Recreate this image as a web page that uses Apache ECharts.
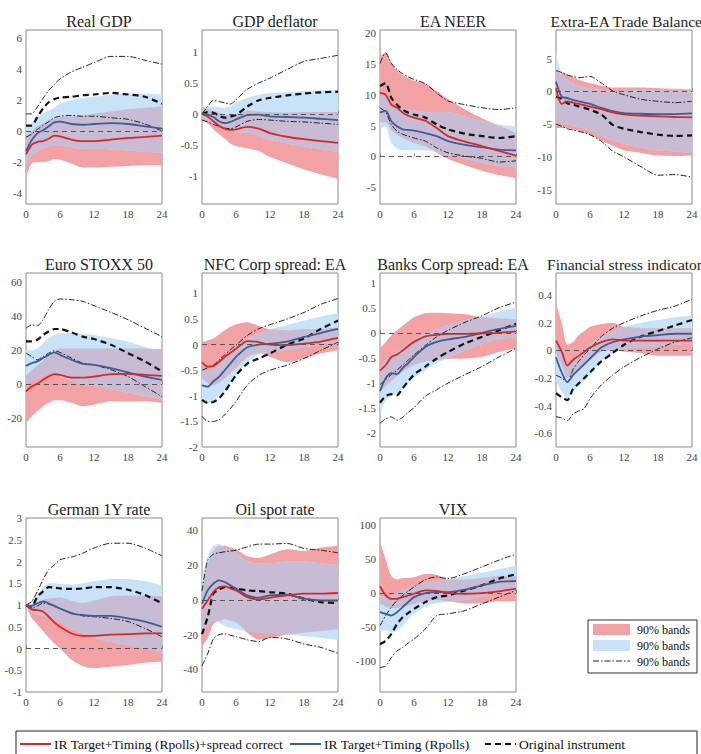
<!DOCTYPE html>
<html>
<head>
<meta charset="utf-8">
<title>Impulse responses</title>
<script src="https://cdn.jsdelivr.net/npm/echarts@6/dist/echarts.min.js"></script>
<style>
  html, body { margin: 0; padding: 0; background: #fff; }
  #main { width: 701px; height: 754px; }
</style>
</head>
<body>
<div id="main"></div>
<script>
// horizons in months, shared by every panel
const horizons = [0, 1, 2, 3, 4, 5, 6, 8, 10, 12, 15, 18, 21, 24];
const months = Array.from({ length: 25 }, (_, i) => String(i)); // x categories 0..24

// Real GDP
const gdpRed    = [-1.5, -0.9, -0.7, -0.65, -0.5, -0.3, -0.35, -0.55, -0.65, -0.65, -0.55, -0.45, -0.38, -0.3];
const gdpBlue   = [-1.3, -0.6, -0.15, 0.05, 0.3, 0.55, 0.6, 0.45, 0.4, 0.45, 0.5, 0.45, 0.3, 0.15];
const gdpOrig   = [0.35, 0.35, 0.9, 1.45, 1.85, 2.05, 2.15, 2.2, 2.3, 2.35, 2.45, 2.35, 2.2, 1.75];
const gdpDdHi   = [1.1, 1.1, 1.55, 2.1, 2.6, 3.0, 3.35, 3.8, 4.1, 4.4, 4.8, 4.8, 4.55, 4.3];
const gdpDdLo   = [-0.4, -0.2, 0.1, 0.35, 0.6, 0.85, 0.95, 1.0, 0.95, 0.95, 0.85, 0.75, 0.45, 0.0];
const gdpRedHi  = [-0.3, 0.0, 0.3, 0.5, 0.7, 0.8, 0.9, 0.95, 1.0, 1.1, 1.25, 1.4, 1.5, 1.6];
const gdpRedLo  = [-2.9, -2.1, -2.0, -2.0, -1.95, -1.8, -1.85, -2.1, -2.35, -2.35, -2.3, -2.25, -2.2, -2.2];
const gdpBlueHi = [0.3, 0.5, 0.9, 1.1, 1.3, 1.5, 1.75, 2.0, 2.1, 2.2, 2.35, 2.4, 2.4, 2.35];
const gdpBlueLo = [-2.2, -1.6, -1.3, -1.1, -1.0, -0.95, -0.95, -1.05, -1.15, -1.15, -1.2, -1.25, -1.35, -1.4];
const gdpTicks  = [-4, -2, 0, 2, 4, 6];

// GDP deflator
const deflRed    = [0, -0.04, -0.12, -0.19, -0.24, -0.26, -0.25, -0.21, -0.24, -0.31, -0.37, -0.41, -0.44, -0.47];
const deflBlue   = [0, -0.01, -0.05, -0.12, -0.15, -0.13, -0.09, -0.02, -0.01, -0.04, -0.05, -0.06, -0.08, -0.1];
const deflOrig   = [0, 0.03, 0.02, -0.03, -0.06, -0.04, -0.02, 0.12, 0.22, 0.26, 0.3, 0.33, 0.35, 0.36];
const deflDdHi   = [0, 0.12, 0.22, 0.2, 0.18, 0.16, 0.23, 0.4, 0.5, 0.58, 0.72, 0.85, 0.9, 0.95];
const deflDdLo   = [-0.1, -0.13, -0.17, -0.2, -0.23, -0.24, -0.21, -0.12, -0.09, -0.1, -0.12, -0.13, -0.15, -0.17];
const deflRedHi  = [0.12, 0.08, 0.05, 0.02, -0.02, -0.02, 0.0, 0.05, 0.04, 0.03, 0.02, 0.03, 0.03, 0.03];
const deflRedLo  = [-0.1, -0.15, -0.25, -0.33, -0.4, -0.48, -0.52, -0.56, -0.6, -0.7, -0.8, -0.9, -0.98, -1.05];
const deflBlueHi = [0.12, 0.12, 0.12, 0.11, 0.1, 0.12, 0.18, 0.26, 0.31, 0.34, 0.35, 0.37, 0.38, 0.39];
const deflBlueLo = [-0.08, -0.1, -0.15, -0.2, -0.25, -0.28, -0.3, -0.3, -0.35, -0.42, -0.48, -0.53, -0.57, -0.62];
const deflTicks  = [-1, -0.5, 0, 0.5, 1];

// EA NEER
const neerRed    = [10.3, 10, 8.4, 7.9, 7.1, 6.6, 6.3, 5.8, 4.6, 3.3, 2.4, 1.7, 0.9, 0.15];
const neerBlue   = [7.1, 7.4, 5.7, 4.9, 4.4, 4.3, 4.2, 3.8, 3.3, 2.5, 1.9, 1.5, 1.1, 1.0];
const neerOrig   = [11.4, 11.9, 9.5, 8.4, 7.6, 7.1, 6.8, 6.3, 5.2, 4.4, 3.7, 3.3, 3.0, 3.3];
const neerDdHi   = [15.1, 16.8, 15.1, 14.1, 13.4, 12.9, 12.5, 11.8, 10.3, 9.0, 8.4, 7.9, 7.6, 7.9];
const neerDdLo   = [7.9, 7.2, 5.2, 4.1, 3.6, 3.3, 3.0, 2.5, 1.4, 0.6, 0.05, -0.3, -0.9, -0.7];
const neerRedHi  = [16.3, 16.8, 15.2, 14, 13.2, 12.7, 12.3, 11.8, 10.6, 9.3, 7.6, 6.2, 5.0, 3.8];
const neerRedLo  = [5.5, 5.5, 4.2, 3.5, 3.0, 2.6, 2.2, 1.6, 0.6, -0.4, -1.4, -2.3, -3.0, -3.5];
const neerBlueHi = [9.5, 10, 8.6, 8.2, 7.8, 7.6, 7.5, 7.2, 7.2, 7.2, 6.5, 5.8, 5.2, 4.9];
const neerBlueLo = [4.5, 4.8, 2.2, 1.3, 1.0, 1.0, 1.0, 1.0, 0.7, 0.2, -0.4, -1.0, -1.5, -1.8];
const neerTicks  = [-5, 0, 5, 10, 15, 20];

// Extra-EA trade balance
const tbRed    = [0.5, -1.9, -1.5, -1.7, -1.9, -2.1, -2.3, -2.7, -3.2, -3.5, -3.7, -3.8, -3.9, -3.95];
const tbBlue   = [1.5, -0.8, -1.0, -1.3, -1.5, -1.7, -1.9, -2.5, -3.0, -3.3, -3.4, -3.45, -3.45, -3.35];
const tbOrig   = [-0.8, -1.1, -1.8, -2.0, -2.3, -2.5, -2.8, -3.5, -5.1, -5.7, -6.2, -6.6, -6.8, -6.7];
const tbDdHi   = [3.2, 2.9, 2.5, 2.3, 2.1, 2.2, 2.3, 1.3, 0.1, -0.5, -1.2, -1.5, -1.7, -1.5];
const tbDdLo   = [-5.0, -5.3, -5.7, -5.9, -6.1, -6.3, -6.6, -7.6, -9.1, -10.0, -11.5, -12.8, -12.7, -13.1];
const tbRedHi  = [3.3, 3.0, 2.6, 2.2, 1.8, 1.5, 1.3, 0.9, 0.6, 0.6, 0.6, 0.5, 0.4, 0.3];
const tbRedLo  = [-5.6, -5.6, -5.6, -5.8, -6.0, -6.3, -6.6, -7.5, -8.3, -9.0, -9.4, -9.8, -9.9, -9.8];
const tbBlueHi = [6.0, 2.5, 1.8, 1.2, 0.8, 0.6, 0.5, 0.2, 0.0, 0.1, 0.2, 0.2, 0.1, 0.1];
const tbBlueLo = [-4.6, -5.0, -5.0, -5.2, -5.5, -5.7, -6.0, -6.8, -7.5, -8.0, -8.6, -9.0, -9.2, -9.3];
const tbTicks  = [-15, -10, -5, 0, 5];

// Euro STOXX 50
const stoxxRed    = [-4.3, -1.4, 0.2, 2.6, 4.5, 5.9, 5.5, 3.9, 3.9, 4.5, 5.9, 6.1, 5.5, 4.9];
const stoxxBlue   = [10.8, 12.4, 13.4, 15.4, 17.3, 18.7, 17.3, 14.4, 12, 11.4, 9.4, 6.9, 4.5, 2.6];
const stoxxOrig   = [25.2, 25.2, 26.2, 29, 31, 32.5, 32.5, 30.5, 28, 26.6, 23.2, 18.3, 13.4, 7.5];
const stoxxDdHi   = [33, 35, 34.4, 38, 44, 48.8, 50.2, 49.8, 48.8, 46.3, 42.3, 38, 33, 28];
const stoxxDdLo   = [18.3, 16.3, 14.4, 16.3, 18.3, 19.7, 18.7, 15.4, 12.4, 11.4, 8.5, 4.5, -1.4, -7.3];
const stoxxRedHi  = [5, 8, 11, 14, 17, 19, 21, 21, 21, 21, 21, 21, 21, 20.5];
const stoxxRedLo  = [-23, -19, -16, -13, -11, -9.5, -9.5, -11, -13, -12, -10, -10, -10, -11];
const stoxxBlueHi = [20, 20, 21, 24, 27, 29, 30, 30, 29.5, 29, 27, 25, 22, 19];
const stoxxBlueLo = [0, 2, 3, 5, 6, 6, 5, 2, 0, -1, -3, -5, -7, -9];
const stoxxTicks  = [-20, 0, 20, 40, 60];

// NFC corporate spread
const nfcRed    = [-0.34, -0.43, -0.42, -0.34, -0.24, -0.16, -0.08, 0.07, 0.05, 0, -0.01, 0.02, 0.06, 0.13];
const nfcBlue   = [-0.79, -0.82, -0.72, -0.63, -0.5, -0.37, -0.24, -0.05, 0, 0.02, 0.06, 0.15, 0.23, 0.31];
const nfcOrig   = [-1.08, -1.14, -1.12, -1.05, -0.92, -0.76, -0.6, -0.37, -0.27, -0.17, 0, 0.12, 0.31, 0.47];
const nfcDdHi   = [-0.5, -0.45, -0.4, -0.3, -0.2, -0.1, -0.01, 0.18, 0.31, 0.39, 0.5, 0.63, 0.79, 0.9];
const nfcDdLo   = [-1.4, -1.5, -1.5, -1.47, -1.37, -1.25, -1.11, -0.79, -0.6, -0.5, -0.4, -0.27, -0.11, 0.05];
const nfcRedHi  = [0.04, 0.08, 0.12, 0.2, 0.28, 0.35, 0.4, 0.44, 0.37, 0.3, 0.28, 0.3, 0.31, 0.34];
const nfcRedLo  = [-0.66, -0.75, -0.79, -0.75, -0.66, -0.56, -0.46, -0.24, -0.17, -0.24, -0.34, -0.27, -0.17, -0.11];
const nfcBlueHi = [-0.45, -0.5, -0.45, -0.35, -0.25, -0.15, -0.05, 0.12, 0.22, 0.3, 0.38, 0.47, 0.55, 0.62];
const nfcBlueLo = [-1.1, -1.15, -1.1, -1.0, -0.9, -0.75, -0.6, -0.35, -0.2, -0.15, -0.1, -0.05, 0.0, 0.05];
const nfcTicks  = [-2, -1.5, -1, -0.5, 0, 0.5, 1];

// Banks corporate spread
const bankRed    = [-0.75, -0.64, -0.48, -0.43, -0.35, -0.26, -0.18, -0.07, -0.04, -0.02, -0.02, -0.01, 0, 0.03];
const bankBlue   = [-1.16, -0.9, -0.8, -0.82, -0.7, -0.6, -0.48, -0.28, -0.18, -0.13, -0.08, 0, 0.08, 0.14];
const bankOrig   = [-1.39, -1.26, -1.22, -1.24, -1.1, -0.96, -0.83, -0.67, -0.51, -0.38, -0.21, -0.08, 0.05, 0.18];
const bankDdHi   = [-1.03, -0.93, -0.83, -0.74, -0.64, -0.54, -0.44, -0.25, -0.08, 0.05, 0.21, 0.34, 0.5, 0.61];
const bankDdLo   = [-1.8, -1.71, -1.67, -1.74, -1.68, -1.58, -1.49, -1.26, -1.13, -1.0, -0.83, -0.67, -0.48, -0.31];
const bankRedHi  = [-0.31, -0.18, -0.05, 0.05, 0.14, 0.23, 0.31, 0.39, 0.4, 0.39, 0.37, 0.31, 0.29, 0.27];
const bankRedLo  = [-1.16, -1.06, -0.96, -0.86, -0.77, -0.7, -0.64, -0.57, -0.54, -0.52, -0.51, -0.48, -0.38, -0.31];
const bankBlueHi = [-0.7, -0.55, -0.45, -0.38, -0.3, -0.22, -0.15, -0.02, 0.07, 0.15, 0.25, 0.33, 0.42, 0.5];
const bankBlueLo = [-1.6, -1.35, -1.25, -1.2, -1.1, -1.0, -0.9, -0.75, -0.6, -0.5, -0.35, -0.22, -0.12, -0.1];
const bankTicks  = [-2, -1.5, -1, -0.5, 0, 0.5, 1];

// Financial stress indicator
const fsiRed    = [0.07, -0.01, -0.11, -0.07, -0.04, -0.01, 0.02, 0.06, 0.08, 0.07, 0.07, 0.07, 0.07, 0.07];
const fsiBlue   = [-0.05, -0.16, -0.23, -0.18, -0.14, -0.1, -0.06, 0.02, 0.06, 0.08, 0.1, 0.11, 0.12, 0.12];
const fsiOrig   = [-0.31, -0.34, -0.36, -0.28, -0.24, -0.2, -0.16, -0.08, -0.02, 0.04, 0.1, 0.14, 0.18, 0.22];
const fsiDdHi   = [-0.18, -0.2, -0.23, -0.14, -0.08, -0.03, 0.01, 0.1, 0.16, 0.2, 0.25, 0.29, 0.32, 0.37];
const fsiDdLo   = [-0.48, -0.49, -0.51, -0.46, -0.44, -0.42, -0.35, -0.25, -0.18, -0.12, -0.05, 0.01, 0.06, 0.09];
const fsiRedHi  = [0.34, 0.2, 0.04, 0.06, 0.11, 0.14, 0.17, 0.19, 0.2, 0.17, 0.16, 0.16, 0.16, 0.16];
const fsiRedLo  = [-0.02, -0.11, -0.2, -0.18, -0.14, -0.1, -0.07, -0.01, 0, -0.01, -0.02, -0.04, -0.04, -0.04];
const fsiBlueHi = [0.08, -0.03, -0.1, -0.07, -0.03, 0.0, 0.04, 0.1, 0.14, 0.17, 0.2, 0.22, 0.24, 0.25];
const fsiBlueLo = [-0.22, -0.3, -0.35, -0.3, -0.26, -0.22, -0.18, -0.08, -0.02, 0.01, 0.02, 0.03, 0.04, 0.05];
const fsiTicks  = [-0.6, -0.4, -0.2, 0, 0.2, 0.4];

// German 1Y rate
const de1yRed    = [1.0, 0.9, 0.88, 0.85, 0.73, 0.6, 0.5, 0.35, 0.29, 0.29, 0.32, 0.33, 0.35, 0.35];
const de1yBlue   = [1.0, 0.98, 1.04, 1.08, 1.04, 0.98, 0.92, 0.81, 0.77, 0.75, 0.75, 0.69, 0.62, 0.5];
const de1yOrig   = [1.0, 0.96, 1.19, 1.31, 1.41, 1.4, 1.38, 1.37, 1.38, 1.41, 1.41, 1.35, 1.23, 1.04];
const de1yDdHi   = [1.0, 1.08, 1.31, 1.58, 1.81, 1.92, 2.04, 2.1, 2.19, 2.31, 2.42, 2.42, 2.31, 2.13];
const de1yDdLo   = [0.98, 0.92, 0.98, 1.04, 1.02, 0.97, 0.92, 0.82, 0.75, 0.73, 0.69, 0.62, 0.46, 0.27];
const de1yRedHi  = [1.0, 1.0, 1.05, 1.12, 1.15, 1.16, 1.17, 1.1, 1.05, 1.1, 1.2, 1.22, 1.22, 1.2];
const de1yRedLo  = [1.0, 0.7, 0.55, 0.4, 0.25, 0.12, 0.0, -0.25, -0.4, -0.45, -0.42, -0.38, -0.33, -0.3];
const de1yBlueHi = [1.0, 1.1, 1.25, 1.4, 1.5, 1.5, 1.48, 1.47, 1.5, 1.55, 1.6, 1.6, 1.55, 1.45];
const de1yBlueLo = [1.0, 0.85, 0.8, 0.75, 0.72, 0.66, 0.6, 0.45, 0.35, 0.25, 0.15, 0.08, 0.0, -0.1];
const de1yTicks  = [-1, -0.5, 0, 0.5, 1, 1.5, 2, 2.5, 3];

// Oil spot rate
const oilRed    = [-5.2, -0.4, 4.4, 7.3, 7.7, 6.5, 5.4, 1.5, 0.2, 1.2, 2.5, 3.5, 3.5, 3.9];
const oilBlue   = [-2.3, 5.4, 9.2, 11.2, 10.2, 8.3, 6.4, 2.5, 1.2, 2.5, 2.9, 0.6, -0.4, -0.4];
const oilOrig   = [-19.7, -10, 3.5, 5.8, 7.3, 7.0, 6.4, 5.4, 5.0, 4.4, 3.5, 0.6, -1.3, -1.9];
const oilDdHi   = [5, 22.7, 26.2, 27, 27.6, 28, 28.5, 30.4, 32, 32, 32.4, 29.5, 28.5, 27];
const oilDdLo   = [-38, -31, -22.5, -20, -19.6, -20.4, -21.2, -23, -24, -21.6, -22.5, -25.4, -27.4, -30.8];
const oilRedHi  = [5, 20, 28, 31, 31, 30, 29, 25, 24, 26, 29, 28, 30, 31];
const oilRedLo  = [-27, -22, -14, -12, -11, -12, -13, -19, -23, -22, -20, -19, -18, -17];
const oilBlueHi = [12, 25, 31, 32, 30, 28, 27, 22, 21, 21, 22, 22, 21, 20];
const oilBlueLo = [-18, -15, -12, -13, -15, -16, -17, -18, -19, -19, -20, -21, -22, -23];
const oilTicks  = [-40, -20, 0, 20, 40];

// VIX
const vixRed    = [10, -3.4, -8.4, -8.4, -5.9, -3.5, -1, 3.9, 3, 0, -1, 0, 2.5, 6.4];
const vixBlue   = [-28, -30.5, -33, -28, -20.7, -13, -5.9, 0, 1.5, 1.5, 4.9, 11.3, 16.3, 17.7];
const vixOrig   = [-74.9, -70, -60, -45.3, -35.5, -29, -23.2, -13.3, -5.9, -3.4, 3.9, 11.3, 21.2, 27.6];
const vixDdHi   = [-47.8, -33, -20.7, -10.8, -3.4, 3, 8.9, 19.7, 23.6, 21.2, 28.6, 38.4, 48.3, 57.1];
const vixDdLo   = [-109, -107, -94.6, -84.7, -79.8, -73, -67.5, -52.7, -33, -30.5, -25.6, -15.8, -5.9, 3.9];
const vixRedHi  = [75, 50, 25, 20, 22, 22, 23, 28, 27, 20, 20, 22, 25, 25];
const vixRedLo  = [-15, -20, -22, -22, -20, -18, -16, -12, -10, -12, -15, -15, -12, -12];
const vixBlueHi = [-5, -5, -5, 0, 5, 8, 10, 15, 18, 20, 25, 30, 35, 40];
const vixBlueLo = [-55, -55, -58, -55, -48, -38, -30, -20, -15, -13, -10, -5, 0, 2];
const vixTicks  = [-100, -50, 0, 50, 100];

const nameRed = 'IR Target+Timing (Rpolls)+spread correct';
const nameBlue = 'IR Target+Timing (Rpolls)';
const nameOrig = 'Original instrument';

const FONT = 'Liberation Serif, Times New Roman, serif';
const RED = '#d5282b', BLUE = '#3d5c98', BLACK = '#111';
const RED_BAND = '#f2a2a5', BLUE_BAND = '#c8e3f7', MIX_BAND = '#c8bcd4';

const panels = [
  { title: 'Real GDP', d: [gdpRed, gdpBlue, gdpOrig, gdpDdHi, gdpDdLo, gdpRedHi, gdpRedLo, gdpBlueHi, gdpBlueLo], ticks: gdpTicks, min: -4.7, max: 6.5, left: 26, top: 30 },
  { title: 'GDP deflator', d: [deflRed, deflBlue, deflOrig, deflDdHi, deflDdLo, deflRedHi, deflRedLo, deflBlueHi, deflBlueLo], ticks: deflTicks, min: -1.46, max: 1.36, left: 202, top: 30 },
  { title: 'EA NEER', d: [neerRed, neerBlue, neerOrig, neerDdHi, neerDdLo, neerRedHi, neerRedLo, neerBlueHi, neerBlueLo], ticks: neerTicks, min: -7.7, max: 20.5, left: 380, top: 30 },
  { title: 'Extra-EA Trade Balance', d: [tbRed, tbBlue, tbOrig, tbDdHi, tbDdLo, tbRedHi, tbRedLo, tbBlueHi, tbBlueLo], ticks: tbTicks, min: -17.2, max: 9.4, left: 556, top: 30, edge: true },
  { title: 'Euro STOXX 50', d: [stoxxRed, stoxxBlue, stoxxOrig, stoxxDdHi, stoxxDdLo, stoxxRedHi, stoxxRedLo, stoxxBlueHi, stoxxBlueLo], ticks: stoxxTicks, min: -37, max: 65.5, left: 26, top: 273 },
  { title: 'NFC Corp spread: EA', d: [nfcRed, nfcBlue, nfcOrig, nfcDdHi, nfcDdLo, nfcRedHi, nfcRedLo, nfcBlueHi, nfcBlueLo], ticks: nfcTicks, min: -2, max: 1.4, left: 202, top: 273 },
  { title: 'Banks Corp spread: EA', d: [bankRed, bankBlue, bankOrig, bankDdHi, bankDdLo, bankRedHi, bankRedLo, bankBlueHi, bankBlueLo], ticks: bankTicks, min: -2.27, max: 1.19, left: 380, top: 273 },
  { title: 'Financial stress indicator', d: [fsiRed, fsiBlue, fsiOrig, fsiDdHi, fsiDdLo, fsiRedHi, fsiRedLo, fsiBlueHi, fsiBlueLo], ticks: fsiTicks, min: -0.7, max: 0.56, left: 556, top: 273, edge: true },
  { title: 'German 1Y rate', d: [de1yRed, de1yBlue, de1yOrig, de1yDdHi, de1yDdLo, de1yRedHi, de1yRedLo, de1yBlueHi, de1yBlueLo], ticks: de1yTicks, min: -1, max: 3, left: 26, top: 518 },
  { title: 'Oil spot rate', d: [oilRed, oilBlue, oilOrig, oilDdHi, oilDdLo, oilRedHi, oilRedLo, oilBlueHi, oilBlueLo], ticks: oilTicks, min: -53, max: 47, left: 202, top: 518 },
  { title: 'VIX', d: [vixRed, vixBlue, vixOrig, vixDdHi, vixDdLo, vixRedHi, vixRedLo, vixBlueHi, vixBlueLo], ticks: vixTicks, min: -145, max: 110, left: 380, top: 518 }
];
const W = 136, H = 174;

const pair = v => horizons.map((h, i) => [h, v[i]]);

function band(i, key, lo, hi, color) {
  const base = {
    type: 'line', xAxisIndex: i, yAxisIndex: i, stack: 'p' + i + key, stackStrategy: 'all',
    symbol: 'none', smooth: 0.25, silent: true, lineStyle: { width: 0, opacity: 0 }
  };
  return [
    Object.assign({}, base, { data: pair(lo) }),
    Object.assign({}, base, { data: pair(hi.map((v, k) => Math.max(0, +(v - lo[k]).toFixed(4)))), areaStyle: { color: color, opacity: 1 } })
  ];
}

function line(i, vals, name, style) {
  const s = { type: 'line', xAxisIndex: i, yAxisIndex: i, data: pair(vals), symbol: 'none', smooth: 0.25, silent: true, lineStyle: style };
  if (name) s.name = name;
  return s;
}

const grids = [], xAxes = [], yAxes = [], titles = [], series = [];
panels.forEach((p, i) => {
  const [red, blue, orig, ddHi, ddLo, redHi, redLo, blueHi, blueLo] = p.d;
  grids.push({ left: p.left, top: p.top, width: W, height: H, show: true, borderColor: '#8a8a8a', borderWidth: 1 });
  titles.push({ text: p.title, left: p.edge ? 697 : p.left + W / 2, top: p.top - 22, textAlign: p.edge ? 'right' : 'center',
    textStyle: { fontFamily: FONT, fontSize: p.edge ? 15.5 : 16, fontWeight: 'normal', color: '#222' } });
  xAxes.push({ type: 'category', gridIndex: i, data: months, boundaryGap: false,
    axisLine: { show: false }, splitLine: { show: false },
    axisTick: { inside: true, length: 3, interval: 5, lineStyle: { color: '#8a8a8a' } },
    axisLabel: { interval: 5, fontFamily: FONT, fontSize: 11, color: '#444', margin: 4 } });
  yAxes.push({ type: 'value', gridIndex: i, min: p.min, max: p.max,
    axisLine: { show: false }, splitLine: { show: false },
    axisTick: { inside: true, length: 3, customValues: p.ticks, lineStyle: { color: '#8a8a8a' } },
    axisLabel: { fontFamily: FONT, fontSize: 11, color: '#444', margin: 4, customValues: p.ticks } });

  const mixLo = redLo.map((v, k) => Math.max(v, blueLo[k]));
  const mixHi = redHi.map((v, k) => Math.max(mixLo[k], Math.min(v, blueHi[k])));
  series.push(...band(i, 'r', redLo, redHi, RED_BAND));
  series.push(...band(i, 'b', blueLo, blueHi, BLUE_BAND));
  series.push(...band(i, 'm', mixLo, mixHi, MIX_BAND));

  const dd = { color: '#222', width: 1, type: [6, 2, 1.5, 2] };
  const hiLine = line(i, ddHi, null, dd);
  hiLine.markLine = { silent: true, symbol: ['none', 'none'], label: { show: false },
    lineStyle: { color: '#555', width: 1, type: [5, 4] }, data: [{ yAxis: 0 }] };
  series.push(hiLine);
  series.push(line(i, ddLo, null, dd));
  series.push(line(i, orig, nameOrig, { color: BLACK, width: 2.2, type: [6, 4] }));
  series.push(line(i, blue, nameBlue, { color: BLUE, width: 1.8 }));
  series.push(line(i, red, nameRed, { color: RED, width: 1.8 }));
});

const legendBase = {
  top: 737, padding: 0, itemWidth: 31, itemHeight: 10, itemGap: 0, selectedMode: false,
  itemStyle: { opacity: 0 },
  textStyle: { fontFamily: FONT, fontSize: 13.5, color: '#111', padding: [0, 0, 0, -2] }
};

const chart = echarts.init(document.getElementById('main'), null, { renderer: 'svg' });
chart.setOption({
  animation: false,
  backgroundColor: '#fff',
  title: titles,
  grid: grids,
  xAxis: xAxes,
  yAxis: yAxes,
  series: series,
  legend: [
    Object.assign({}, legendBase, { data: [nameRed], left: 19 }),
    Object.assign({}, legendBase, { data: [nameBlue], left: 289 }),
    Object.assign({}, legendBase, { data: [nameOrig], left: 484 })
  ],
  graphic: [
    { type: 'rect', z: 100, shape: { x: 16, y: 731, width: 681, height: 26 }, style: { fill: 'none', stroke: '#222', lineWidth: 1 } },
    { type: 'rect', shape: { x: 588, y: 620, width: 109, height: 53 }, style: { fill: '#fff', stroke: '#333', lineWidth: 1 } },
    { type: 'rect', shape: { x: 593, y: 624, width: 37, height: 11 }, style: { fill: RED_BAND } },
    { type: 'rect', shape: { x: 593, y: 640, width: 37, height: 11 }, style: { fill: BLUE_BAND } },
    { type: 'line', shape: { x1: 593, y1: 661, x2: 630, y2: 661 }, style: { stroke: '#222', lineWidth: 1, lineDash: [6, 2, 1.5, 2] } },
    { type: 'text', x: 637, y: 630, style: { text: '90% bands', font: '12px ' + FONT, fill: '#111', verticalAlign: 'middle' } },
    { type: 'text', x: 637, y: 646, style: { text: '90% bands', font: '12px ' + FONT, fill: '#111', verticalAlign: 'middle' } },
    { type: 'text', x: 637, y: 662, style: { text: '90% bands', font: '12px ' + FONT, fill: '#111', verticalAlign: 'middle' } }
  ]
});
</script>
</body>
</html>
